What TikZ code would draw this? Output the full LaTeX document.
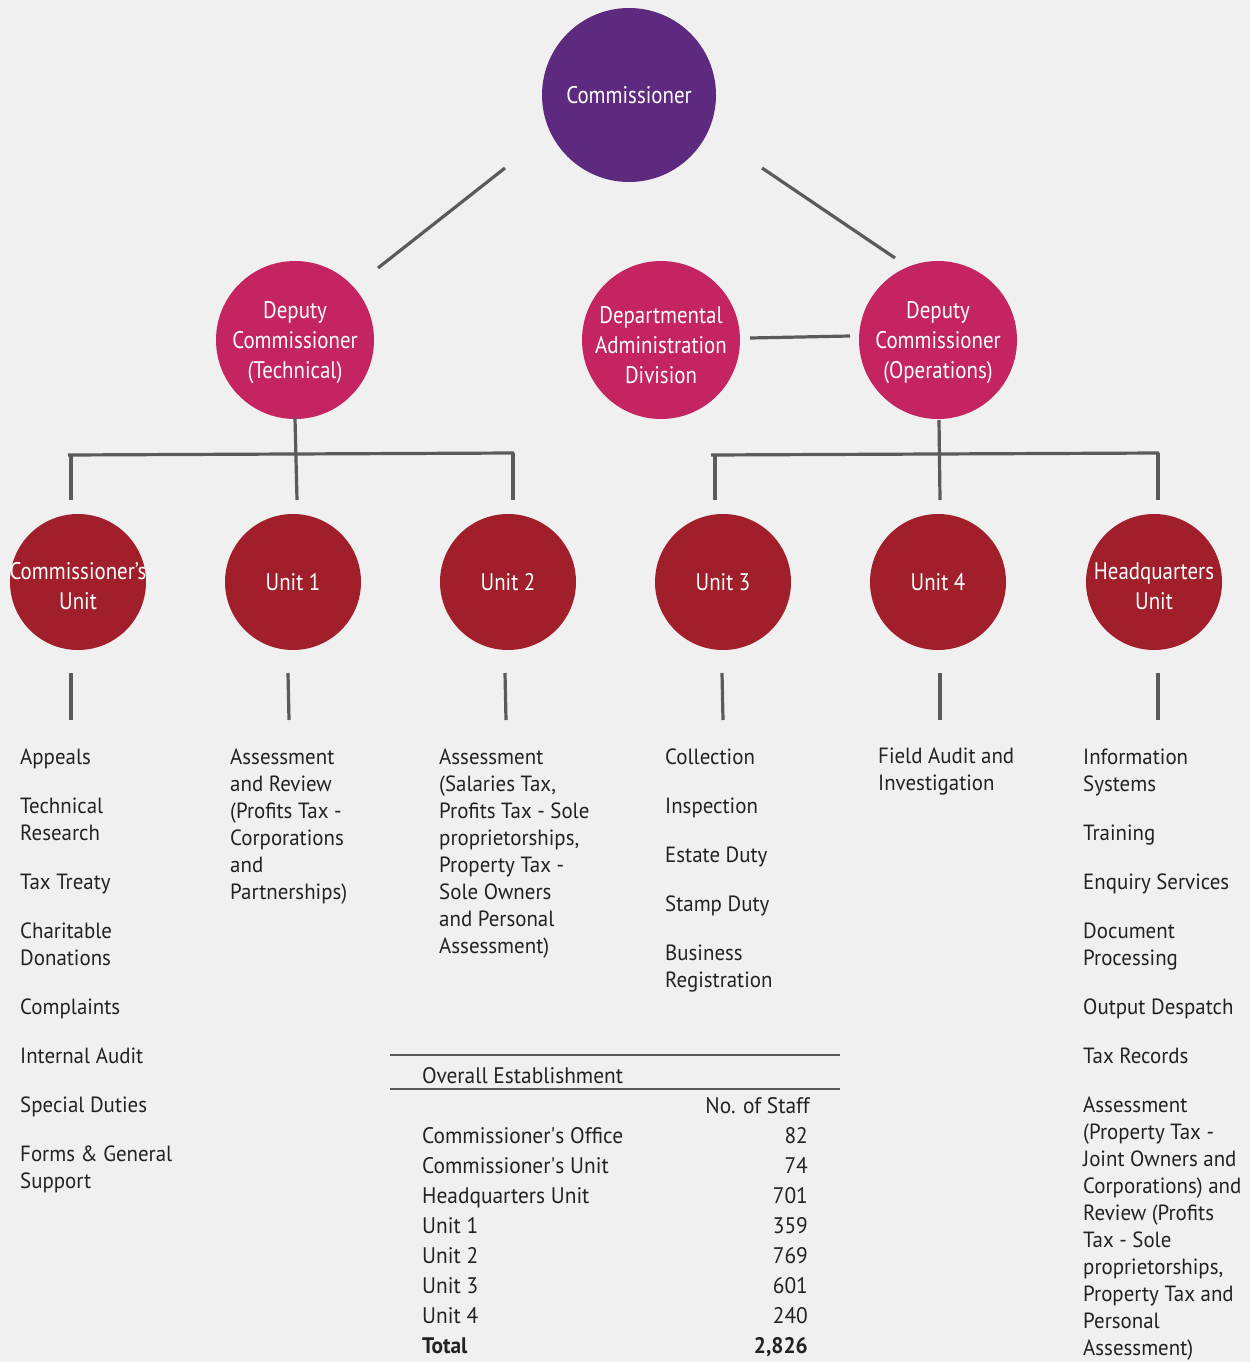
\documentclass[tikz,border=0pt]{standalone}
\usepackage{fontspec}
\setmainfont{PT Sans}[FakeStretch=0.95]
\newfontfamily\circfont{PT Sans}[FakeStretch=0.87]
\usetikzlibrary{calc}
\definecolor{paper}{HTML}{F0F0F0}
\definecolor{commpurple}{HTML}{5E2A80}
\definecolor{deppink}{HTML}{C4245F}
\definecolor{unitred}{HTML}{A01F2B}
\definecolor{linegray}{HTML}{5A5A5A}
\definecolor{textgray}{HTML}{222222}
\begin{document}
\begin{tikzpicture}[x=1pt,y=-1pt,
 conn/.style={draw=linegray,line width=3.2pt},
 rule/.style={draw=linegray,line width=1.2pt},
 purplec/.style={circle,fill=commpurple,minimum size=174pt,inner sep=0pt},
 pinkc/.style={circle,fill=deppink,minimum size=158pt,inner sep=0pt},
 redc/.style={circle,fill=unitred,minimum size=136pt,inner sep=0pt},
 inlbl/.style={text=white,align=center,font=\circfont\fontsize{24}{30}\selectfont,inner sep=0pt},
 col/.style={anchor=base west,align=left,inner sep=0pt,font=\fontsize{22}{27}\selectfont,text=textgray},
 tl/.style={anchor=base west,inner sep=0pt,font=\fontsize{22.5}{27}\selectfont,text=textgray},
 tr/.style={anchor=base east,inner sep=0pt,font=\fontsize{22.5}{27}\selectfont,text=textgray},
]
\useasboundingbox (0,0) rectangle (1250,1362);
\fill[paper] (0,0) rectangle (1250,1362);

% circles
\node[purplec] (comm) at (629,95) {};
\node[inlbl] at (comm) {Commissioner};
\node[pinkc] (dtech) at (295,340) {};
\node[inlbl] at ($(dtech)+(0,3)$) {Deputy\\Commissioner\\(Technical)};
\node[pinkc] (dad) at (661,340) {};
\node[inlbl] at ($(dad)+(0,5)$) {Departmental\\Administration\\Division};
\node[pinkc] (dops) at (938,340) {};
\node[inlbl] at ($(dops)+(0,3)$) {Deputy\\Commissioner\\(Operations)};

\node[redc] (cu) at (78,582) {};
\node[inlbl] at ($(cu)+(0,4)$) {Commissioner’s\\Unit};
\node[redc] (u1) at (293,582) {};
\node[inlbl] at (u1) {Unit 1};
\node[redc] (u2) at (508,582) {};
\node[inlbl] at (u2) {Unit 2};
\node[redc] (u3) at (723,582) {};
\node[inlbl] at (u3) {Unit 3};
\node[redc] (u4) at (938,582) {};
\node[inlbl] at (u4) {Unit 4};
\node[redc] (hq) at (1154,582) {};
\node[inlbl] at ($(hq)+(0,4)$) {Headquarters\\Unit};

% connectors top
\draw[conn] ($(comm)+(-124,73)$) -- ($(dtech)+(83,-72)$);
\draw[conn] ($(comm)+(133,73)$) -- ($(dops)+(-43,-82)$);
\draw[conn] ($(dad)+(89,-2)$) -- ($(dops)+(-88,-4)$);

% technical branch
\draw[conn] ($(dtech)+(0,78)$) -- ($(dtech)+(2,160)$);
\draw[conn] (68,455) -- (514,453);
\draw[conn] (71,455) -- ($(cu)+(-7,-82)$);
\draw[conn] (513,453) -- ($(u2)+(5,-82)$);

% operations branch
\draw[conn] ($(dops)+(1,80)$) -- ($(dops)+(2,160)$);
\draw[conn] (711,455) -- (1159,453);
\draw[conn] (715,455) -- ($(u3)+(-8,-82)$);
\draw[conn] (1158,453) -- ($(hq)+(4,-82)$);

% short lines below units
\draw[conn] ($(cu)+(-7,91)$) -- ($(cu)+(-7,138)$);
\draw[conn] ($(u1)+(-5,91)$) -- ($(u1)+(-4,138)$);
\draw[conn] ($(u2)+(-3,91)$) -- ($(u2)+(-2,138)$);
\draw[conn] ($(u3)+(-1,91)$) -- ($(u3)+(0,138)$);
\draw[conn] ($(u4)+(2,91)$) -- ($(u4)+(2,138)$);
\draw[conn] ($(hq)+(4,91)$) -- ($(hq)+(4,138)$);

% columns (anchored at the baseline of their last line)
\node[col] (c1) at (20,1188) {Appeals\\[22pt]Technical\\Research\\[22pt]Tax Treaty\\[22pt]Charitable\\Donations\\[22pt]Complaints\\[22pt]Internal Audit\\[22pt]Special Duties\\[22pt]Forms \& General\\Support};
\node[col] (c2) at (230,899) {Assessment\\and Review\\(Profits Tax -\\Corporations\\and\\Partnerships)};
\node[col] (c3) at (439,953) {Assessment\\(Salaries Tax,\\Profits Tax - Sole\\proprietorships,\\Property Tax -\\Sole Owners\\and Personal\\Assessment)};
\node[col] (c4) at (665,987) {Collection\\[22pt]Inspection\\[22pt]Estate Duty\\[22pt]Stamp Duty\\[22pt]Business\\Registration};
\node[col] (c5) at (878,790) {Field Audit and\\Investigation};
\node[col] (c6) at (1083,1355) {Information\\Systems\\[22pt]Training\\[22pt]Enquiry Services\\[22pt]Document\\Processing\\[22pt]Output Despatch\\[22pt]Tax Records\\[22pt]Assessment\\(Property Tax -\\Joint Owners and\\Corporations) and\\Review (Profits\\Tax - Sole\\proprietorships,\\Property Tax and\\Personal\\Assessment)};

% table
\draw[rule] (390,1055) -- (840,1055);
\draw[rule] (390,1089) -- (840,1089);
\node[tl] (th) at (422,1083) {Overall Establishment};
\node[tr] (ns) at (810,1113) {No. of Staff};
\node[tl] (r1) at (422,1143) {Commissioner\textquotesingle s Office};  \node[tr] (v1) at (808,1143) {82};
\node[tl] (r2) at (422,1173) {Commissioner\textquotesingle s Unit};    \node[tr] (v2) at (808,1173) {74};
\node[tl] (r3) at (422,1203) {Headquarters Unit};      \node[tr] (v3) at (808,1203) {701};
\node[tl] (r4) at (422,1233) {Unit 1};                 \node[tr] (v4) at (808,1233) {359};
\node[tl] (r5) at (422,1263) {Unit 2};                 \node[tr] (v5) at (808,1263) {769};
\node[tl] (r6) at (422,1293) {Unit 3};                 \node[tr] (v6) at (808,1293) {601};
\node[tl] (r7) at (422,1323) {Unit 4};                 \node[tr] (v7) at (808,1323) {240};
\node[tl,font=\fontsize{22.5}{27}\selectfont\bfseries] (r8) at (422,1353) {Total}; \node[tr,font=\fontsize{22.5}{27}\selectfont\bfseries] (v8) at (808,1353) {2,826};
\end{tikzpicture}
\end{document}
